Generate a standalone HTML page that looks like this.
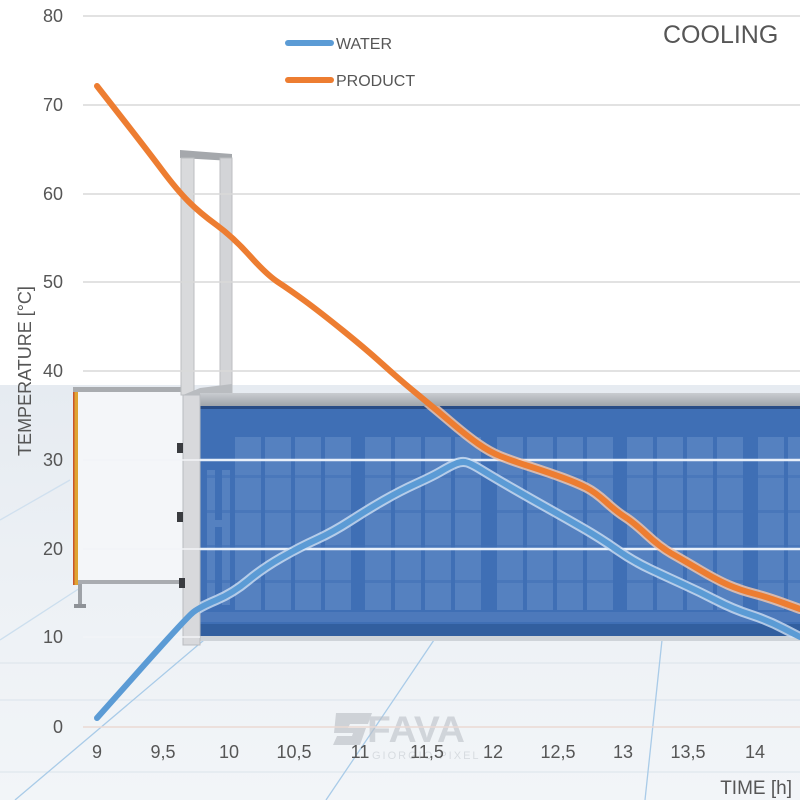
<!DOCTYPE html>
<html><head><meta charset="utf-8"><style>
html,body{margin:0;padding:0;background:#fff;}
svg{display:block;}
text{font-family:"Liberation Sans",sans-serif;fill:#565656;}
</style></head><body>
<svg width="800" height="800" viewBox="0 0 800 800" xmlns="http://www.w3.org/2000/svg">
<defs>
<linearGradient id="floor" x1="0" y1="0" x2="0" y2="1">
<stop offset="0" stop-color="#e6ebf1"/><stop offset="0.5" stop-color="#edf1f5"/><stop offset="1" stop-color="#f2f5f8"/>
</linearGradient>
<linearGradient id="strip" x1="0" y1="0" x2="0" y2="1">
<stop offset="0" stop-color="#c9ccd0"/><stop offset="1" stop-color="#9fa4aa"/>
</linearGradient>
<clipPath id="boxclip"><rect x="200" y="406" width="600" height="232"/></clipPath>
</defs>
<rect x="0" y="0" width="800" height="800" fill="#fff"/>
<rect x="0" y="385" width="800" height="415" fill="url(#floor)"/>
<!-- floor lines -->
<g stroke="#dfe6ed" stroke-width="1.2">
<line x1="0" y1="663" x2="800" y2="663"/>
<line x1="0" y1="772" x2="800" y2="772"/>
<line x1="0" y1="700" x2="800" y2="700"/>
</g>
<g stroke="#a9cbe8" stroke-width="1.3" fill="none">
<line x1="15" y1="800" x2="204" y2="640"/>
<line x1="326" y1="800" x2="434" y2="640"/>
<line x1="645" y1="800" x2="662" y2="640"/>
<line x1="0" y1="640" x2="80" y2="588" stroke-opacity="0.5"/>
<line x1="0" y1="520" x2="70" y2="480" stroke-opacity="0.4"/>
</g>
<!-- left frame -->
<rect x="78" y="392" width="105" height="190" fill="#f4f6f9"/>
<rect x="73" y="387" width="112" height="5" fill="#a9acb0"/>
<rect x="73" y="392" width="5" height="193" fill="#e0a332"/>
<rect x="73" y="392" width="1.5" height="193" fill="#c9562c"/>
<rect x="78" y="580" width="105" height="4" fill="#a9acb0"/>
<rect x="78" y="584" width="4" height="22" fill="#9ea2a7"/>
<rect x="74" y="604" width="12" height="4" fill="#8e9297"/>
<!-- tall frame -->
<polygon points="180,150 232,154 232,161 180,158" fill="#a5a8ac"/>
<rect x="181" y="158" width="13" height="237" fill="#d9dadc" stroke="#bcbec1" stroke-width="1"/>
<rect x="220" y="158" width="12" height="236" fill="#d3d4d7" stroke="#bcbec1" stroke-width="1"/>
<polygon points="183,395 200,388 232,384 232,395 200,400" fill="#b9bcc0"/>
<!-- box -->
<rect x="200" y="393" width="600" height="13" fill="url(#strip)"/>
<rect x="200" y="406" width="600" height="3" fill="#284c86"/>
<rect x="200" y="409" width="600" height="227" fill="#3f6fb5"/>
<g fill="#5d87c4" opacity="0.75">
<rect x="207" y="470" width="8" height="135"/><rect x="207" y="520" width="23" height="7"/><rect x="222" y="470" width="8" height="135"/>
<rect x="235" y="437" width="26" height="173"/><rect x="265" y="437" width="26" height="173"/><rect x="295" y="437" width="26" height="173"/><rect x="325" y="437" width="26" height="173"/>
<rect x="365" y="437" width="26" height="173"/><rect x="395" y="437" width="26" height="173"/><rect x="425" y="437" width="26" height="173"/><rect x="455" y="437" width="26" height="173"/>
<rect x="497" y="437" width="26" height="173"/><rect x="527" y="437" width="26" height="173"/><rect x="557" y="437" width="26" height="173"/><rect x="587" y="437" width="26" height="173"/>
<rect x="627" y="437" width="26" height="173"/><rect x="657" y="437" width="26" height="173"/><rect x="687" y="437" width="26" height="173"/><rect x="717" y="437" width="26" height="173"/>
<rect x="758" y="437" width="26" height="173"/><rect x="788" y="437" width="12" height="173"/>
</g>
<g fill="#3f6fb5" opacity="0.5">
<rect x="200" y="475" width="600" height="3"/><rect x="200" y="510" width="600" height="3"/><rect x="200" y="545" width="600" height="3"/><rect x="200" y="580" width="600" height="3"/>
</g>
<rect x="200" y="612" width="600" height="10" fill="#4d79bb"/>
<rect x="200" y="624" width="600" height="12" fill="#325f9f"/>
<rect x="200" y="636" width="600" height="5" fill="#cfd4d9"/>
<!-- lower part of left post -->
<rect x="183" y="395" width="17" height="250" fill="#d8d9dc" stroke="#b9bcc0" stroke-width="1"/>
<g fill="#3a3c40">
<rect x="177" y="443" width="6" height="10"/><rect x="177" y="512" width="6" height="10"/><rect x="179" y="578" width="6" height="10"/>
</g>
<!-- watermark -->
<g opacity="0.6">
<path d="M336,713 L372,713 L368,724 L350,724 L348,728 L366,728 L360,745 L333,745 L337,736 L352,736 L353,733 L334,733 Z" fill="#b8bdc3"/>
<text x="367" y="742" font-size="37" font-weight="bold" textLength="98" lengthAdjust="spacingAndGlyphs" style="fill:#bcc1c7">FAVA</text>
<text x="372" y="759" font-size="11" letter-spacing="2" style="fill:#c7ccd2">GIORGIO PIXEL</text>
</g>
<!-- gridlines -->
<g stroke="#d9d9d9" stroke-width="1.5">
<line x1="83" y1="16" x2="800" y2="16"/>
<line x1="83" y1="105" x2="800" y2="105"/>
<line x1="83" y1="194" x2="800" y2="194"/>
<line x1="83" y1="282" x2="800" y2="282"/>
<line x1="83" y1="371" x2="800" y2="371"/>
</g>
<g stroke="#f2f4f7" stroke-width="1.5">
<line x1="83" y1="460" x2="200" y2="460"/>
<line x1="83" y1="549" x2="200" y2="549"/>
<line x1="83" y1="637" x2="200" y2="637"/>
</g>
<g stroke="#e8f0fa" stroke-width="2.5">
<line x1="200" y1="460" x2="800" y2="460"/>
<line x1="200" y1="549" x2="800" y2="549"/>
</g>
<line x1="83" y1="727" x2="800" y2="727" stroke="#ead9d4" stroke-width="1.5"/>
<!-- series halos inside box -->
<g clip-path="url(#boxclip)" fill="none" stroke-linejoin="round" stroke-linecap="round" stroke-width="10" opacity="0.8">
<path stroke="#cfe0f4" d="M97,718 L142,667.5 Q187,617 193.5,612 Q200,607 216.5,600 Q233,593 248,580.5 Q263,568 281.5,557.5 Q300,547 316.5,539.5 Q333,532 350,521 Q367,510 383.5,500.5 Q400,491 416.5,483.5 Q433,476 441.5,471 Q450,466 456,463.5 Q462,461 467,462.5 Q472,464 482.5,470.5 Q493,477 513,488.5 Q533,500 550,509.5 Q567,519 583.5,528.5 Q600,538 616.5,549.5 Q633,561 650,569 Q667,577 683.5,584.5 Q700,592 716.5,600.5 Q733,609 750,614.5 Q767,620 783.5,628.5 L800,637"/>
<path stroke="#f7c9ad" d="M97,86 L122,118 Q147,150 162,170 Q177,190 188.5,201.5 Q200,213 216.5,225 Q233,237 250,256 Q267,275 278.5,282.5 Q290,290 305,301 Q320,312 343.5,331 Q367,350 383.5,365 Q400,380 416.5,393.5 Q433,407 450,421.5 Q467,436 478.5,444 Q490,452 500,456 Q510,460 530,466.5 Q550,473 563.5,478 Q577,483 586,487.5 Q595,492 606,502 Q617,512 625,517 Q633,522 646.5,534.5 Q660,547 671.5,553.5 Q683,560 700,570 Q717,580 728.5,585 Q740,590 753.5,593.5 Q767,597 783.5,603 L800,609"/>
</g>
<!-- series -->
<g fill="none" stroke-linejoin="round" stroke-linecap="round" stroke-width="6">
<path stroke="#5b9bd5" d="M97,718 L142,667.5 Q187,617 193.5,612 Q200,607 216.5,600 Q233,593 248,580.5 Q263,568 281.5,557.5 Q300,547 316.5,539.5 Q333,532 350,521 Q367,510 383.5,500.5 Q400,491 416.5,483.5 Q433,476 441.5,471 Q450,466 456,463.5 Q462,461 467,462.5 Q472,464 482.5,470.5 Q493,477 513,488.5 Q533,500 550,509.5 Q567,519 583.5,528.5 Q600,538 616.5,549.5 Q633,561 650,569 Q667,577 683.5,584.5 Q700,592 716.5,600.5 Q733,609 750,614.5 Q767,620 783.5,628.5 L800,637"/>
<path stroke="#ed7d31" d="M97,86 L122,118 Q147,150 162,170 Q177,190 188.5,201.5 Q200,213 216.5,225 Q233,237 250,256 Q267,275 278.5,282.5 Q290,290 305,301 Q320,312 343.5,331 Q367,350 383.5,365 Q400,380 416.5,393.5 Q433,407 450,421.5 Q467,436 478.5,444 Q490,452 500,456 Q510,460 530,466.5 Q550,473 563.5,478 Q577,483 586,487.5 Q595,492 606,502 Q617,512 625,517 Q633,522 646.5,534.5 Q660,547 671.5,553.5 Q683,560 700,570 Q717,580 728.5,585 Q740,590 753.5,593.5 Q767,597 783.5,603 L800,609"/>
</g>
<!-- y labels -->
<g font-size="18" text-anchor="end">
<text x="63" y="22">80</text>
<text x="63" y="111">70</text>
<text x="63" y="200">60</text>
<text x="63" y="288">50</text>
<text x="63" y="377">40</text>
<text x="63" y="466">30</text>
<text x="63" y="555">20</text>
<text x="63" y="643">10</text>
<text x="63" y="733">0</text>
</g>
<!-- x labels -->
<g font-size="18" text-anchor="middle">
<text x="97" y="758">9</text>
<text x="163" y="758">9,5</text>
<text x="229" y="758">10</text>
<text x="294" y="758">10,5</text>
<text x="360" y="758">11</text>
<text x="427" y="758">11,5</text>
<text x="493" y="758">12</text>
<text x="558" y="758">12,5</text>
<text x="623" y="758">13</text>
<text x="688" y="758">13,5</text>
<text x="755" y="758">14</text>
</g>
<text x="792" y="794" font-size="19" text-anchor="end">TIME [h]</text>
<text transform="translate(31,371) rotate(-90)" font-size="18" text-anchor="middle">TEMPERATURE [°C]</text>
<!-- legend -->
<line x1="288" y1="43" x2="331" y2="43" stroke="#5b9bd5" stroke-width="6" stroke-linecap="round"/>
<text x="336" y="49" font-size="16">WATER</text>
<line x1="288" y1="80" x2="331" y2="80" stroke="#ed7d31" stroke-width="6" stroke-linecap="round"/>
<text x="336" y="86" font-size="16">PRODUCT</text>
<text x="663" y="43" font-size="25">COOLING</text>
</svg>
</body></html>
